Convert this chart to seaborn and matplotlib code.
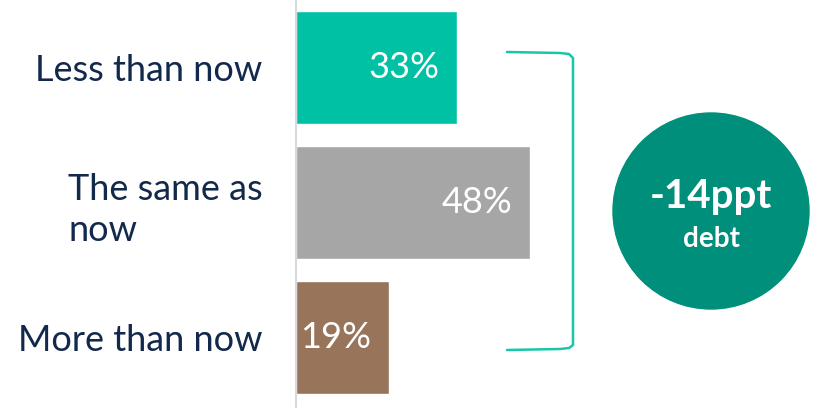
import pandas as pd
import seaborn as sns
import matplotlib.pyplot as plt
from matplotlib.patches import Circle

# data
answers = ['Less than now', 'The same as now', 'More than now']
tick_labels = ['Less than now', 'The same as\nnow', 'More than now']
shares = [33, 48, 19]
bar_colors = ['#00C1A4', '#A6A6A6', '#97745A']
badge_big = '-14ppt'
badge_small = 'debt'

df = pd.DataFrame({'answer': answers, 'share': shares})

sns.set_style('white')
plt.rcParams['font.family'] = ['Lato', 'DejaVu Sans']

W, H = 813, 408
fig = plt.figure(figsize=(W / 100, H / 100), dpi=100)

# bar area: starts at the grey axis line
ax = fig.add_axes([296 / W, 0, (W - 296) / W, 1])
sns.barplot(data=df, y='answer', x='share', hue='answer', palette=bar_colors,
            order=answers, orient='h', width=0.84, legend=False, ax=ax,
            saturation=1)
ax.set_xlim(0, (W - 296) / 4.88)
ax.set_ylim(2.52, -0.5)
ax.set_xlabel('')
ax.set_ylabel('')
ax.set_xticks([])
ax.set_yticks(range(len(answers)))
ax.set_yticklabels(tick_labels)
for t in ax.get_yticklabels():
    t.set_fontsize(26)
    t.set_color('#13294B')
    t.set_multialignment('left')
    t.set_linespacing(1.3)
ax.tick_params(axis='y', length=0, pad=24)
for s in ['top', 'right', 'bottom']:
    ax.spines[s].set_visible(False)
ax.spines['left'].set_color('#D9D9D9')
ax.spines['left'].set_linewidth(1.5)
ax.patch.set_alpha(0)

for i, v in enumerate(shares):
    ax.text(v - 3.6, i, f'{v}%', ha='right', va='center', color='white',
            fontsize=26, fontweight='normal')

# overlay for the bracket and badge (pixel coords)
ov = fig.add_axes([0, 0, 1, 1], zorder=-1)
ov.set_xlim(0, W)
ov.set_ylim(H, 0)
ov.axis('off')

bx = [507, 560, 569, 573, 573, 569, 560, 507]
by = [52, 53, 54, 58, 345, 348, 349, 350]
ov.plot(bx, by, color='#1AC6A9', lw=1.8, solid_capstyle='round')

ov.add_patch(Circle((711, 211), 98, color='#008F7A'))
ov.text(711, 208, badge_big, ha='center', va='baseline', color='white',
        fontsize=29, fontweight='bold')
ov.text(711, 247, badge_small, ha='center', va='baseline', color='white',
        fontsize=20, fontweight='bold')

fig.savefig('out.png', dpi=100)
